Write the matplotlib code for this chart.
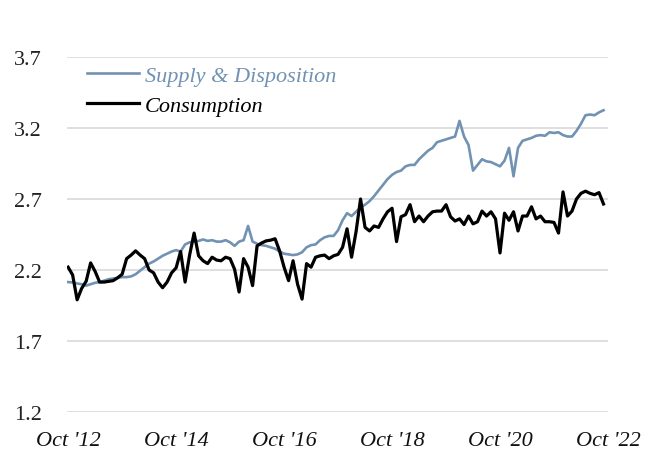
import matplotlib
matplotlib.use("Agg")
import matplotlib.pyplot as plt
import numpy as np

# Monthly data, Oct 2012 onward
supply = [2.115, 2.113, 2.105, 2.10, 2.09, 2.10, 2.11, 2.115, 2.125, 2.135,
          2.14, 2.145, 2.15, 2.15, 2.155, 2.17, 2.195, 2.22, 2.245, 2.26,
          2.28, 2.30, 2.315, 2.33, 2.34, 2.33, 2.38, 2.395, 2.40, 2.405,
          2.415, 2.405, 2.41, 2.40, 2.40, 2.41, 2.395, 2.37, 2.40, 2.41,
          2.51, 2.40, 2.385, 2.375, 2.37, 2.36, 2.35, 2.33, 2.315, 2.31,
          2.305, 2.31, 2.325, 2.36, 2.375, 2.38, 2.41, 2.43, 2.44, 2.44,
          2.48, 2.55, 2.60, 2.58, 2.61, 2.64, 2.66, 2.685, 2.72, 2.76,
          2.80, 2.84, 2.87, 2.89, 2.90, 2.93, 2.94, 2.94, 2.98, 3.01,
          3.04, 3.06, 3.10, 3.11, 3.12, 3.13, 3.14, 3.25, 3.14, 3.08,
          2.90, 2.94, 2.98, 2.965, 2.96, 2.945, 2.93, 2.97, 3.06, 2.86,
          3.06, 3.11, 3.12, 3.13, 3.145, 3.15, 3.145, 3.17, 3.165, 3.17,
          3.15, 3.14, 3.14, 3.18, 3.23, 3.29, 3.295, 3.29, 3.31, 3.325]

consumption = [2.22, 2.165, 1.99, 2.07, 2.12, 2.25, 2.19, 2.115, 2.115, 2.12,
               2.125, 2.145, 2.17, 2.28, 2.305, 2.335, 2.305, 2.28, 2.20, 2.18,
               2.115, 2.075, 2.115, 2.18, 2.215, 2.33, 2.115, 2.305, 2.46, 2.30,
               2.265, 2.245, 2.29, 2.27, 2.265, 2.29, 2.28, 2.205, 2.045, 2.28,
               2.22, 2.09, 2.37, 2.39, 2.405, 2.41, 2.42, 2.335, 2.22, 2.125,
               2.265, 2.10, 1.995, 2.245, 2.22, 2.29, 2.30, 2.305, 2.28, 2.30,
               2.31, 2.36, 2.49, 2.29, 2.47, 2.70, 2.50, 2.475, 2.51, 2.50,
               2.56, 2.61, 2.635, 2.40, 2.575, 2.59, 2.66, 2.54, 2.58, 2.54,
               2.58, 2.61, 2.615, 2.615, 2.66, 2.575, 2.545, 2.56, 2.52, 2.58,
               2.525, 2.54, 2.615, 2.58, 2.61, 2.56, 2.32, 2.60, 2.55, 2.61,
               2.475, 2.58, 2.58, 2.645, 2.56, 2.58, 2.54, 2.54, 2.535, 2.46,
               2.75, 2.58, 2.615, 2.70, 2.74, 2.755, 2.74, 2.73, 2.745, 2.665]

tick_labels = ["Oct '12", "Oct '14", "Oct '16", "Oct '18", "Oct '20", "Oct '22"]
y_ticks = [1.2, 1.7, 2.2, 2.7, 3.2, 3.7]

BLUE = "#7192b2"
SERIF = ["Liberation Serif", "DejaVu Serif"]

fig = plt.figure(figsize=(6.51, 4.60), dpi=100)
ax = fig.add_axes([67/651, (460-413)/460, 541/651, 355/460])

x = np.arange(len(supply))
ax.plot(x, supply, color=BLUE, lw=1.9, label="Supply & Disposition", solid_joinstyle="round")
ax.plot(x, consumption, color="black", lw=2.3, label="Consumption", solid_joinstyle="round")

ax.set_xlim(-0.25, 120)
ax.set_ylim(1.2, 3.7)
ax.set_yticks(y_ticks)
ax.set_yticklabels([f"{v:.1f}" for v in y_ticks], family=SERIF, fontsize=16)
ax.set_xticks(np.arange(0, 121, 24))
ax.set_xticklabels(tick_labels, family=SERIF, fontsize=16, style="italic")
ax.tick_params(axis="y", length=0, pad=18, colors="#222222")
ax.tick_params(axis="x", length=0, pad=14, colors="#111111")
ax.yaxis.grid(True, color="#d9d9d9", lw=1.2)
ax.set_axisbelow(True)
for s in ax.spines.values():
    s.set_visible(False)

leg = ax.legend(loc="upper left", bbox_to_anchor=(0.037, 0.976), frameon=False,
                borderaxespad=0, borderpad=0, handlelength=2.35, handletextpad=0.25,
                labelspacing=0.4,
                prop={"family": SERIF, "style": "italic", "size": 16},
                labelcolor=[BLUE, "black"])

fig.savefig("out.png", dpi=100)
